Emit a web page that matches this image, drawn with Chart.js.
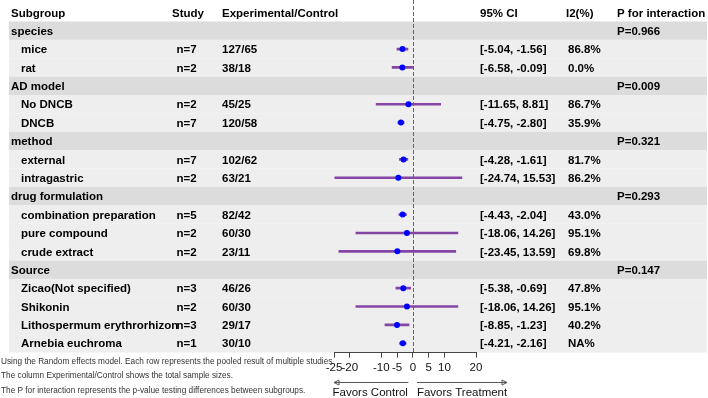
<!DOCTYPE html>
<html>
<head>
<meta charset="utf-8">
<script src="https://cdn.jsdelivr.net/npm/chart.js@4/dist/chart.umd.min.js"></script>
<style>
  body { margin: 0; background: #fff; }
  #wrap { width: 708px; height: 398px; }
</style>
</head>
<body>
<div id="wrap"><canvas id="forest" width="708" height="398"></canvas></div>
<script>
// rows of the table (header row "Subgroup" sits at y = 0, these are y = 1..18)
const subgroups = ['species', 'mice', 'rat', 'AD model', 'No DNCB', 'DNCB', 'method', 'external', 'intragastric',
  'drug formulation', 'combination preparation', 'pure compound', 'crude extract',
  'Source', 'Zicao(Not specified)', 'Shikonin', 'Lithospermum erythrorhizon', 'Arnebia euchroma']
const isGroup = [1, 0, 0, 1, 0, 0, 1, 0, 0, 1, 0, 0, 0, 1, 0, 0, 0, 0]
const studies = ['', 'n=7', 'n=2', '', 'n=2', 'n=7', '', 'n=7', 'n=2', '', 'n=5', 'n=2', 'n=2', '', 'n=3', 'n=2', 'n=3', 'n=1']
const expControl = ['', '127/65', '38/18', '', '45/25', '120/58', '', '102/62', '63/21', '', '82/42', '60/30', '23/11',
  '', '46/26', '60/30', '29/17', '30/10']
const lower = [null, -5.04, -6.58, null, -11.65, -4.75, null, -4.28, -24.74, null, -4.43, -18.06, -23.45,
  null, -5.38, -18.06, -8.85, -4.21]
const upper = [null, -1.56, -0.09, null, 8.81, -2.80, null, -1.61, 15.53, null, -2.04, 14.26, 13.59,
  null, -0.69, 14.26, -1.23, -2.16]
const estimate = [null, -3.30, -3.33, null, -1.42, -3.78, null, -2.95, -4.61, null, -3.24, -1.90, -4.93,
  null, -3.04, -1.90, -5.04, -3.19]
const i2 = ['', '86.8%', '0.0%', '', '86.7%', '35.9%', '', '81.7%', '86.2%', '', '43.0%', '95.1%', '69.8%',
  '', '47.8%', '95.1%', '40.2%', 'NA%']
const pInteraction = ['P=0.966', '', '', 'P=0.009', '', '', 'P=0.321', '', '', 'P=0.293', '', '', '',
  'P=0.147', '', '', '', '']
const xTicks = [-25, -20, -10, -5, 0, 5, 10, 20]
const notes = [
  'Using the Random effects model. Each row represents the pooled result of multiple studies.',
  'The column Experimental/Control shows the total sample sizes.',
  'The P for interaction represents the p-value testing differences between subgroups.'
]

const FONT = "'Liberation Sans', Arial, sans-serif"
const ci = (i) => lower[i] == null ? '' : `[${lower[i].toFixed(2)}, ${upper[i].toFixed(2)}]`

const bars = [], points = []
subgroups.forEach((s, i) => {
  if (lower[i] != null) bars.push({ x: [lower[i], upper[i]], y: i + 1 })
  if (estimate[i] != null) points.push({ x: estimate[i], y: i + 1 })
})

const table = {
  id: 'table',
  beforeDraw(chart) {
    const c = chart.ctx, y = chart.scales.y
    c.save()
    subgroups.forEach((s, i) => {
      const top = y.getPixelForValue(i + 0.5), bot = y.getPixelForValue(i + 1.5)
      c.fillStyle = isGroup[i] ? '#dcdcdc' : '#eeeeee'
      c.fillRect(9, top, 698, bot - top)
    })
    c.restore()
  },
  beforeDatasetsDraw(chart) {
    const c = chart.ctx, x = chart.scales.x, y = chart.scales.y
    const x0 = Math.round(x.getPixelForValue(0)) + 0.5
    c.save()
    c.strokeStyle = '#e8283c'
    c.lineWidth = 1
    c.setLineDash([4, 2])
    c.beginPath()
    c.moveTo(x0, 0)
    c.lineTo(x0, y.getPixelForValue(subgroups.length + 0.5))
    c.stroke()
    c.restore()
  },
  afterDraw(chart) {
    const c = chart.ctx, x = chart.scales.x, y = chart.scales.y
    c.save()
    c.fillStyle = '#000'
    c.textBaseline = 'middle'
    c.font = `bold 11.5px ${FONT}`
    const hy = y.getPixelForValue(0) + 1.5
    c.fillText('Subgroup', 11, hy)
    c.fillText('Study', 172, hy)
    c.fillText('Experimental/Control', 222, hy)
    c.fillText('95% CI', 480, hy)
    c.fillText('I2(%)', 566, hy)
    c.fillText('P for interaction', 617, hy)
    subgroups.forEach((s, i) => {
      const ty = y.getPixelForValue(i + 1) + 1
      c.fillText(s, isGroup[i] ? 11 : 21, ty)
      c.fillText(studies[i], 176.5, ty)
      c.fillText(expControl[i], 222, ty)
      c.fillText(ci(i), 480, ty)
      c.fillText(i2[i], 568, ty)
      c.fillText(pInteraction[i], 617, ty)
    })

    // footnotes
    c.font = `8.25px ${FONT}`
    c.fillStyle = '#333'
    notes.forEach((t, k) => c.fillText(t, 1, 362 + k * 14.2))

    // favour arrows
    const zero = x.getPixelForValue(0), ay = 382.5
    c.strokeStyle = '#555'
    c.lineWidth = 1
    const arrow = (from, to) => {
      const d = Math.sign(to - from)
      c.beginPath()
      c.moveTo(from, ay); c.lineTo(to, ay)
      c.moveTo(to - d * 5, ay - 2.5); c.lineTo(to, ay); c.lineTo(to - d * 5, ay + 2.5); c.closePath()
      c.stroke()
    }
    arrow(zero - 4.5, x.left)
    arrow(zero + 4, x.right + 31)
    c.fillStyle = '#111'
    c.font = `11.5px ${FONT}`
    c.fillText('Favors Control', x.left - 1.5, 393)
    c.fillText('Favors Treatment', zero + 4, 393)
    c.restore()
  }
}

new Chart(document.getElementById('forest'), {
  type: 'bar',
  data: {
    datasets: [
      { type: 'bar', indexAxis: 'y', data: bars, backgroundColor: '#8545a5', barThickness: 2,
        borderWidth: 0, borderSkipped: false, order: 2 },
      { type: 'scatter', data: points, pointRadius: 3, pointBackgroundColor: '#0000ff',
        pointBorderColor: '#0000ff', pointBorderWidth: 0, order: 1 }
    ]
  },
  options: {
    responsive: false,
    animation: false,
    layout: { padding: { left: 334, right: 232, top: 0, bottom: 0 } },
    plugins: { legend: { display: false }, tooltip: { enabled: false } },
    scales: {
      x: {
        type: 'linear', position: 'bottom', min: -25, max: 20, offset: false,
        afterBuildTicks: s => { s.ticks = xTicks.map(v => ({ value: v })) },
        afterFit: s => { s.height = 45.5 },
        ticks: { autoSkip: false, maxRotation: 0, padding: 3, color: '#111', font: { family: FONT, size: 11.5 } },
        grid: { offset: false, drawOnChartArea: false, drawTicks: true, tickLength: 5, color: '#444' },
        border: { display: true, color: '#444' }
      },
      y: { type: 'linear', min: -0.45, max: 18.5, reverse: true, display: false, offset: false,
        grid: { offset: false } }
    }
  },
  plugins: [table]
})
</script>
</body>
</html>
